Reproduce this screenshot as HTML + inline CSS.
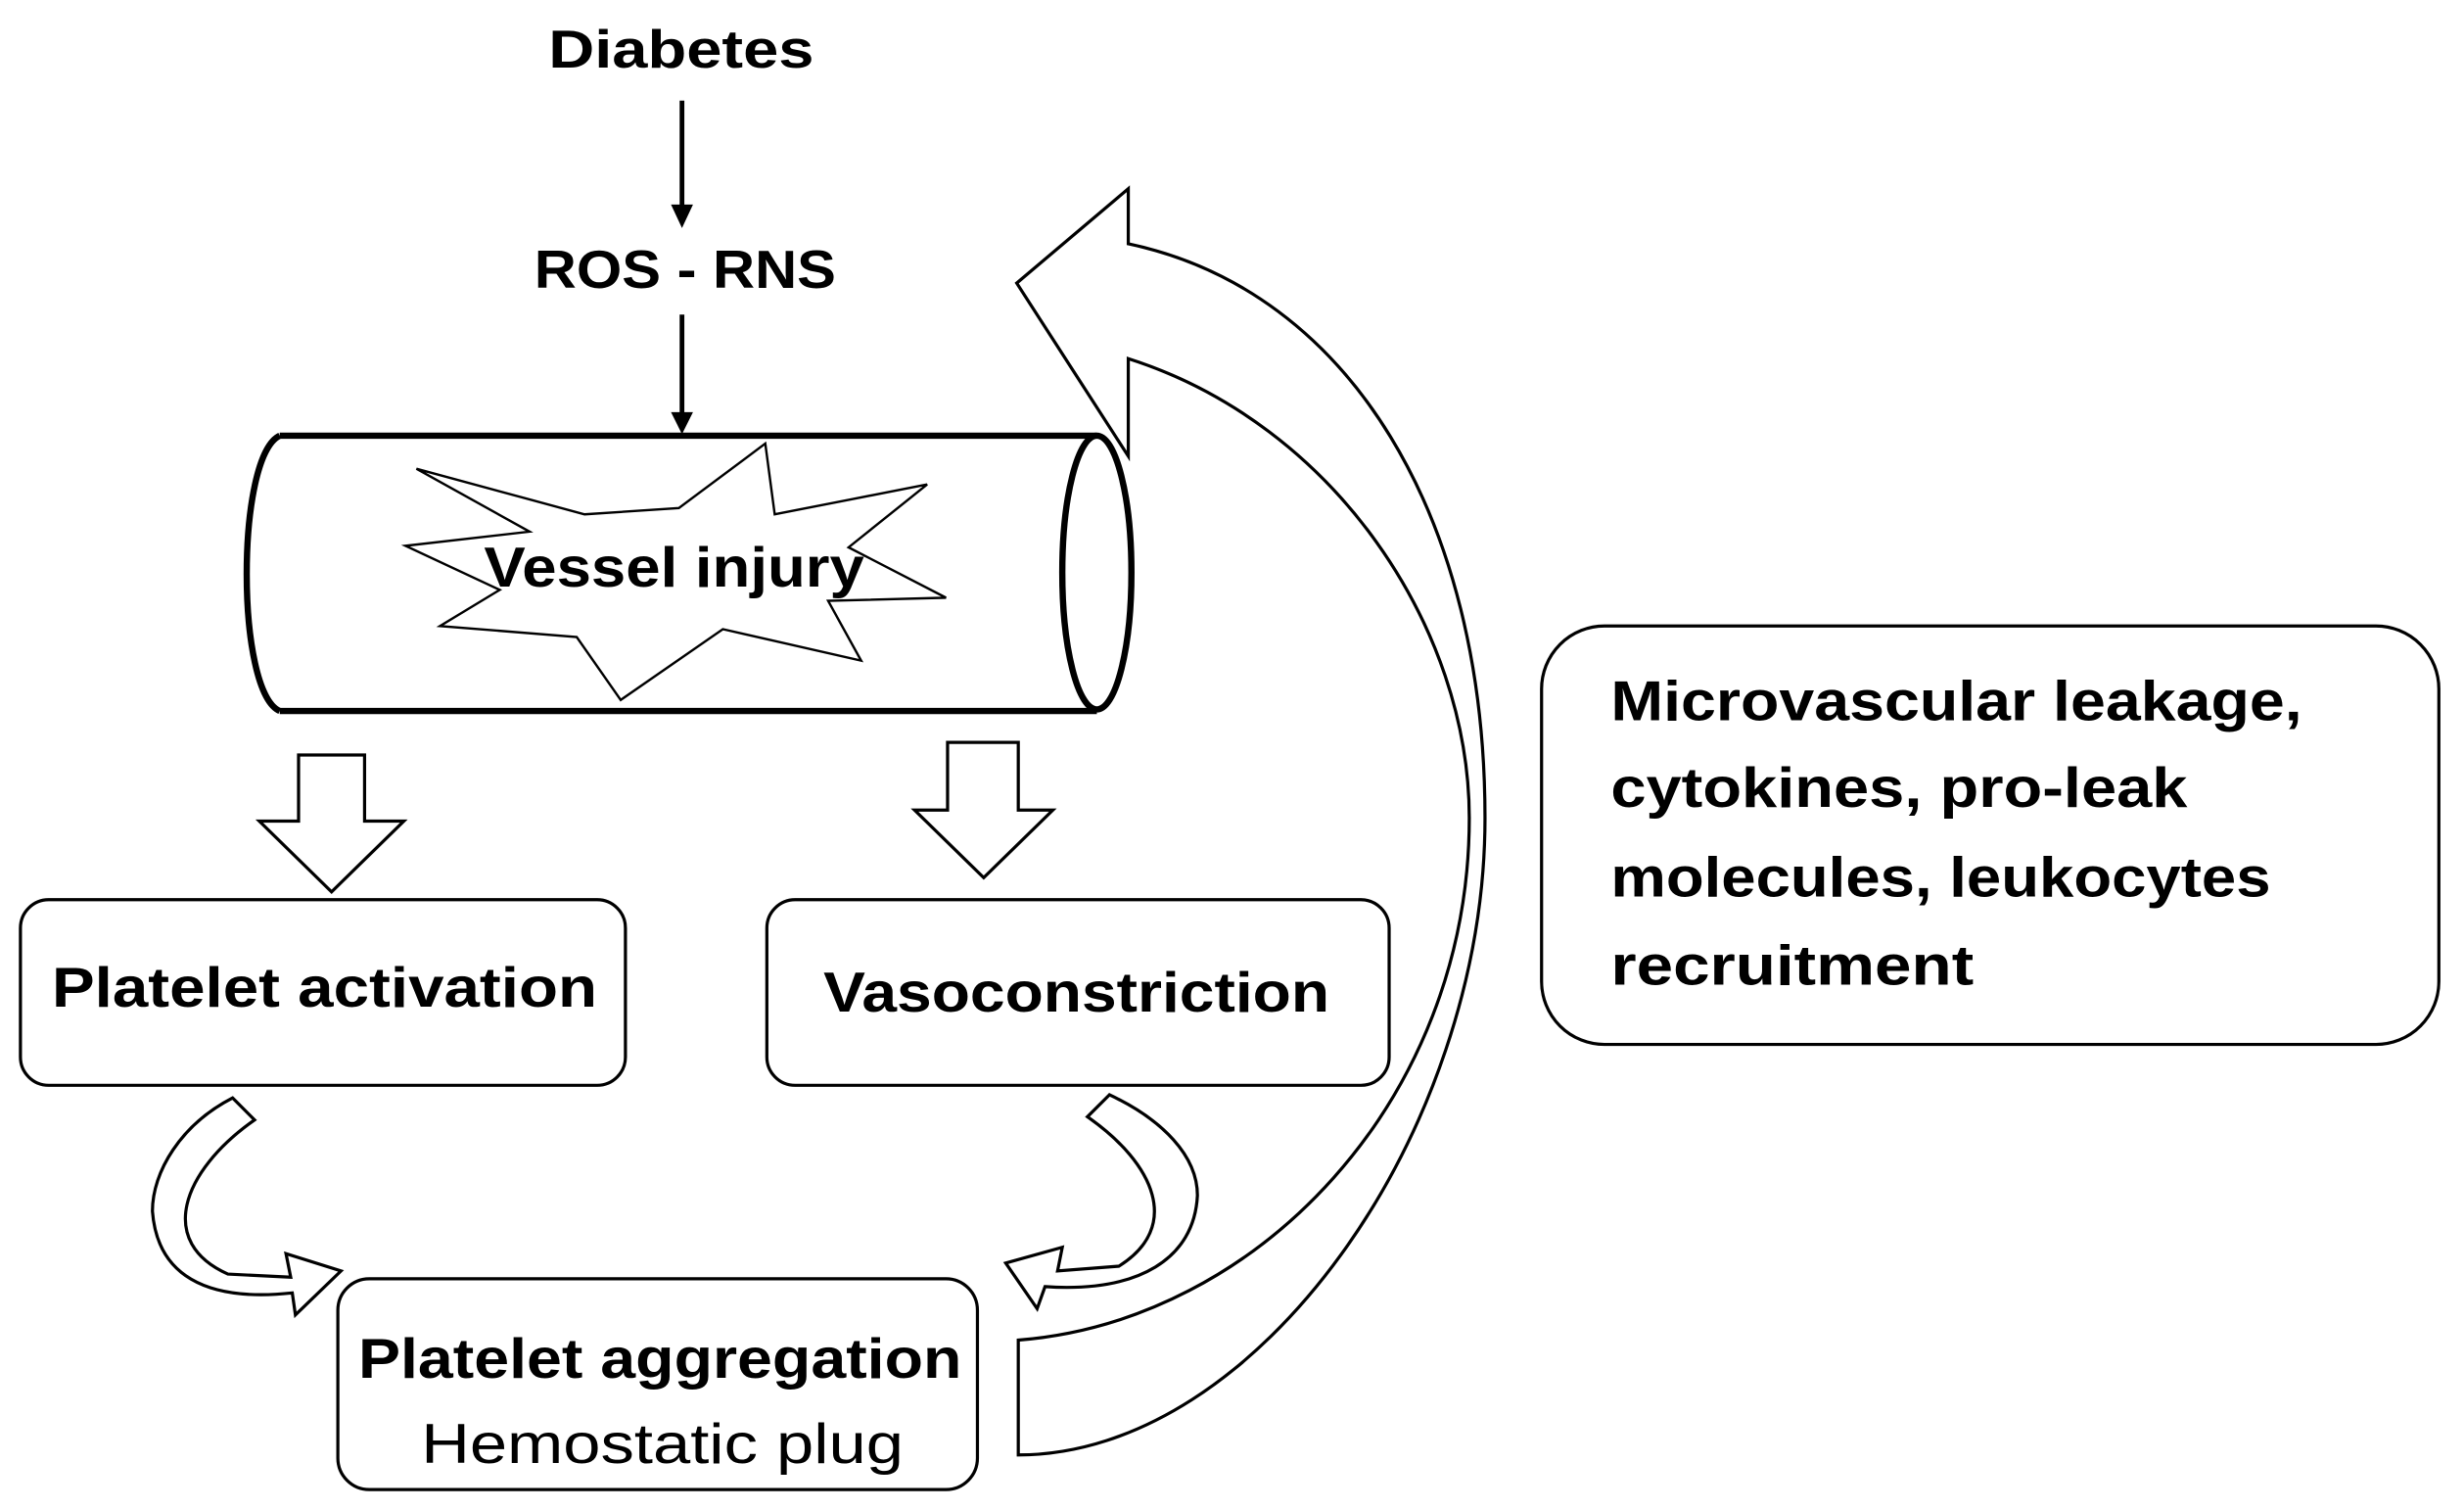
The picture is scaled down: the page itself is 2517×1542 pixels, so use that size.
<!DOCTYPE html>
<html><head><meta charset="utf-8"><style>
html,body{margin:0;padding:0;background:#fff;}
svg{display:block;}
text{font-family:"Liberation Sans",Arial,sans-serif;fill:#000;}
</style></head><body>
<svg width="2517" height="1542" viewBox="0 0 1568 960" preserveAspectRatio="none" xmlns="http://www.w3.org/2000/svg">
<rect width="1568" height="960" fill="#fff"/>
<text x="349" y="43" font-size="34" font-weight="bold" textLength="169" lengthAdjust="spacingAndGlyphs">Diabetes</text>
<line x1="434" y1="64" x2="434" y2="132" stroke="#000" stroke-width="3"/>
<polygon points="427,130 441,130 434,145" fill="#000"/>
<text x="340" y="183" font-size="34" font-weight="bold" textLength="192" lengthAdjust="spacingAndGlyphs">ROS - RNS</text>
<line x1="434" y1="200" x2="434" y2="263" stroke="#000" stroke-width="3"/>
<polygon points="427,262 441,262 434,276" fill="#000"/>
<path d="M178,277 L698,277 M178,452 L698,452" stroke="#000" stroke-width="4" fill="none"/>
<path d="M178,277 C150,290 150,440 178,452" stroke="#000" stroke-width="4" fill="none"/>
<ellipse cx="698" cy="364" rx="22" ry="87" fill="#fff" stroke="#000" stroke-width="4"/>
<polygon points="265,298 372,327 432,323 487,282 493,327 590,308 540,348 602,380 527,382 548,420 460,400 395,445 367,405 280,398 318,375 258,347 337,338" fill="#fff" stroke="#000" stroke-width="1.5"/>
<text x="308" y="373" font-size="36" font-weight="bold" textLength="242" lengthAdjust="spacingAndGlyphs">Vessel injury</text>
<polygon points="190,480 232,480 232,522 257,522 211,567 165,522 190,522" fill="#fff" stroke="#000" stroke-width="2"/>
<polygon points="603,472 648,472 648,515 670,515 626,558 582,515 603,515" fill="#fff" stroke="#000" stroke-width="2"/>
<rect x="13" y="572" width="385" height="118" rx="18" fill="#fff" stroke="#000" stroke-width="2"/>
<text x="33" y="640" font-size="36" font-weight="bold" textLength="347" lengthAdjust="spacingAndGlyphs">Platelet activation</text>
<rect x="488" y="572" width="396" height="118" rx="18" fill="#fff" stroke="#000" stroke-width="2"/>
<text x="524" y="643" font-size="36" font-weight="bold" textLength="322" lengthAdjust="spacingAndGlyphs">Vasoconstriction</text>
<rect x="215" y="813" width="407" height="134" rx="20" fill="#fff" stroke="#000" stroke-width="2"/>
<text x="228" y="876" font-size="36" font-weight="bold" textLength="384" lengthAdjust="spacingAndGlyphs">Platelet aggregation</text>
<text x="268" y="930" font-size="36" textLength="307" lengthAdjust="spacingAndGlyphs">Hemostatic plug</text>
<rect x="981" y="398" width="571" height="266" rx="40" fill="#fff" stroke="#000" stroke-width="2"/>
<text x="1025" y="458" font-size="36" font-weight="bold" textLength="440" lengthAdjust="spacingAndGlyphs">Microvascular leakage,</text>
<text x="1025" y="513" font-size="36" font-weight="bold" textLength="367" lengthAdjust="spacingAndGlyphs">cytokines, pro-leak</text>
<text x="1025" y="570" font-size="36" font-weight="bold" textLength="420" lengthAdjust="spacingAndGlyphs">molecules, leukocytes</text>
<text x="1025" y="626" font-size="36" font-weight="bold" textLength="231" lengthAdjust="spacingAndGlyphs">recruitment</text>
<path d="M148,698 L162,712 C115,745 100,790 145,810 L185,812 L182,797 L217,808 L188,836 L186,822 C130,828 100,810 97,770 C97,745 115,715 148,698 Z" fill="#fff" stroke="#000" stroke-width="2"/>
<path d="M706,696 L692,710 C735,740 752,780 712,805 L673,808 L676,793 L640,803 L660,832 L665,818 C725,822 760,800 762,760 C762,735 740,712 706,696 Z" fill="#fff" stroke="#000" stroke-width="2"/>
<path d="M648,852 C800,840 935,700 935,520 C935,400 850,270 718,228 L718,290 L647,180 L718,120 L718,155 C860,185 945,330 945,520 C945,720 800,925 648,925 Z" fill="#fff" stroke="#000" stroke-width="2"/>
</svg>
</body></html>
